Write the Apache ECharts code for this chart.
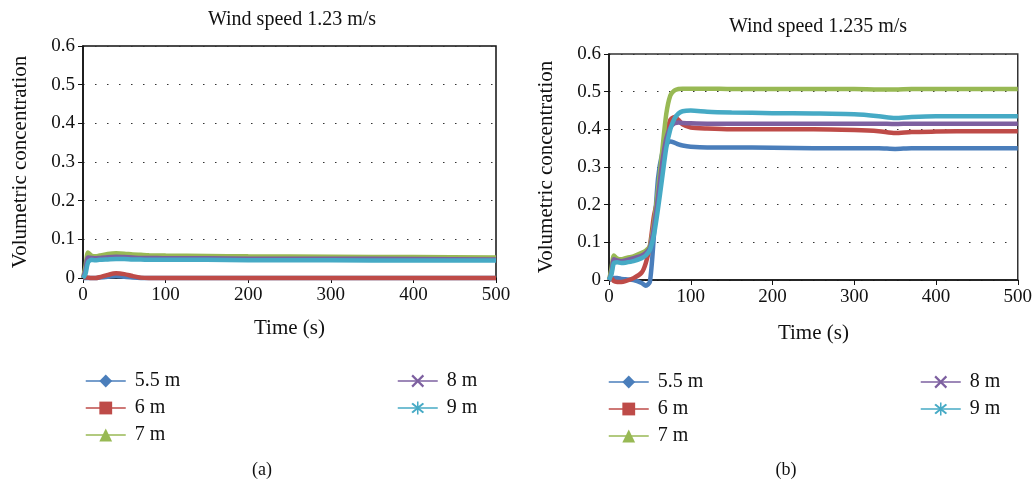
<!DOCTYPE html>
<html>
<head>
<meta charset="utf-8">
<title>Volumetric concentration</title>
<script src="https://cdn.jsdelivr.net/npm/echarts@6/dist/echarts.min.js"></script>
<style>
  html, body { margin: 0; padding: 0; background: #fff; }
  #chart { width: 1035px; height: 487px; }
</style>
</head>
<body>
<div id="chart"></div>
<script>
// series names (same for both panels)
var names = ['5.5 m', '6 m', '7 m', '8 m', '9 m']
var colors = ['#4a7ebb', '#be4b48', '#98b954', '#7d60a0', '#46aac5']

// (a) wind speed 1.23 m/s
var timeA = [0, 3, 6, 10, 15, 20, 30, 40, 50, 60, 70, 80, 100, 150, 200, 300, 400, 500]
var a55 = [0, 0, 0, 0, 0, 0.001, 0.003, 0.005, 0.003, 0.001, 0, 0, 0, 0, 0, 0, 0, 0]
var a6 = [0, 0.002, 0.001, 0, 0, 0.002, 0.008, 0.012, 0.01, 0.005, 0.001, 0, 0, 0, 0, 0, 0, 0]
var a7 = [0, 0.03, 0.066, 0.058, 0.056, 0.058, 0.062, 0.064, 0.063, 0.061, 0.06, 0.059, 0.058, 0.057, 0.056, 0.055, 0.054, 0.053]
var a8 = [0, 0.02, 0.053, 0.052, 0.051, 0.052, 0.054, 0.055, 0.054, 0.053, 0.052, 0.052, 0.051, 0.051, 0.05, 0.05, 0.049, 0.048]
var a9 = [0, 0.01, 0.04, 0.047, 0.046, 0.047, 0.048, 0.049, 0.049, 0.048, 0.048, 0.047, 0.047, 0.047, 0.046, 0.046, 0.045, 0.045]

// (b) wind speed 1.235 m/s
var timeB = [0, 3, 6, 10, 15, 20, 30, 40, 45, 50, 55, 60, 65, 70, 75, 80, 85, 90, 100, 120, 150, 200, 250, 300, 330, 350, 370, 400, 450, 500]
var b55 = [0, 0.003, 0.005, 0.005, 0.003, 0.002, 0, -0.008, -0.015, -0.005, 0.12, 0.27, 0.335, 0.36, 0.368, 0.365, 0.36, 0.357, 0.354, 0.352, 0.352, 0.351, 0.35, 0.35, 0.35, 0.348, 0.35, 0.35, 0.35, 0.35]
var b6 = [0, 0.005, -0.003, -0.005, -0.005, -0.003, 0.005, 0.02, 0.045, 0.09, 0.17, 0.22, 0.3, 0.38, 0.425, 0.433, 0.425, 0.413, 0.405, 0.402, 0.4, 0.4, 0.4, 0.398, 0.395, 0.39, 0.393, 0.394, 0.395, 0.395]
var b7 = [0, 0.03, 0.065, 0.057, 0.055, 0.058, 0.063, 0.072, 0.078, 0.09, 0.15, 0.24, 0.34, 0.44, 0.49, 0.503, 0.507, 0.508, 0.508, 0.508, 0.507, 0.507, 0.507, 0.507, 0.506, 0.506, 0.507, 0.507, 0.507, 0.507]
var b8 = [0, 0.02, 0.055, 0.052, 0.05, 0.052, 0.058, 0.065, 0.072, 0.085, 0.14, 0.22, 0.31, 0.375, 0.405, 0.416, 0.418, 0.417, 0.416, 0.415, 0.415, 0.415, 0.415, 0.415, 0.415, 0.414, 0.415, 0.415, 0.415, 0.415]
var b9 = [0, 0.015, 0.045, 0.047, 0.045, 0.046, 0.05, 0.058, 0.065, 0.08, 0.12, 0.19, 0.27, 0.35, 0.4, 0.428, 0.442, 0.448, 0.45, 0.447, 0.445, 0.443, 0.442, 0.44, 0.435, 0.43, 0.433, 0.435, 0.435, 0.435]

var FONT = '"Liberation Serif", "DejaVu Serif", serif'
// legend markers: diamond, square, triangle, x, asterisk
var symbols = [
  'diamond',
  'rect',
  'triangle',
  'path://M0,1.2 L1.2,0 L10,8.8 L8.8,10 Z M8.8,0 L10,1.2 L1.2,10 L0,8.8 Z',
  'path://M0,1.2 L1.2,0 L10,8.8 L8.8,10 Z M8.8,0 L10,1.2 L1.2,10 L0,8.8 Z M4.4,-1 L5.6,-1 L5.6,11 L4.4,11 Z'
]

function pairs(t, v) {
  return t.map(function (x, i) { return [x, v[i]] })
}

function makeSeries(idx, time, lists) {
  return lists.map(function (vals, i) {
    return {
      name: names[i],
      type: 'line',
      xAxisIndex: idx,
      yAxisIndex: idx,
      data: pairs(time, vals),
      smooth: 0.25,
      clip: false,
      showSymbol: false,
      symbol: symbols[i],
      symbolSize: 12,
      color: colors[i],
      lineStyle: { width: 4.5, color: colors[i] },
      itemStyle: { color: colors[i] },
      emphasis: { disabled: true }
    }
  })
}

function xAxis(gi, gap) {
  return {
    type: 'value', gridIndex: gi, min: 0, max: 500, interval: 100,
    name: 'Time (s)', nameLocation: 'middle', nameGap: gap,
    nameTextStyle: { fontFamily: FONT, fontSize: 21, color: '#111' },
    axisLine: { lineStyle: { color: '#111', width: 1.5 } },
    axisTick: { show: true, length: 5, lineStyle: { color: '#111' } },
    axisLabel: { fontFamily: FONT, fontSize: 19, color: '#111', margin: 8 },
    splitLine: { show: false }
  }
}

function yAxis(gi) {
  return {
    type: 'value', gridIndex: gi, min: 0, max: 0.6, interval: 0.1,
    name: 'Volumetric concentration', nameLocation: 'middle', nameGap: 52,
    nameTextStyle: { fontFamily: FONT, fontSize: 21, color: '#111' },
    axisLine: { show: true, lineStyle: { color: '#111', width: 1.5 } },
    axisTick: { show: true, length: 5, lineStyle: { color: '#111' } },
    axisLabel: {
      fontFamily: FONT, fontSize: 19, color: '#111', margin: 8,
      formatter: function (v) { return String(Math.round(v * 10) / 10) }
    },
    splitLine: { show: true, lineStyle: { color: '#333', width: 1, type: [1.5, 10.5] } }
  }
}

function legend(left, top, data) {
  return {
    left: left, top: top, orient: 'vertical', padding: 0,
    data: data, itemWidth: 40, itemHeight: 16, itemGap: 7,
    selectedMode: false,
    lineStyle: { width: 1.5 },
    textStyle: { fontFamily: FONT, fontSize: 20, color: '#111', lineHeight: 18, padding: [0, 0, 0, 4] }
  }
}

var chart = echarts.init(document.getElementById('chart'), null, { renderer: 'canvas' })
chart.setOption({
  animation: false,
  backgroundColor: '#fff',
  title: [
    { text: 'Wind speed 1.23 m/s', left: 287, top: 5, textAlign: 'center',
      textStyle: { fontFamily: FONT, fontSize: 20, fontWeight: 'normal', color: '#111' } },
    { text: 'Wind speed 1.235 m/s', left: 813, top: 12, textAlign: 'center',
      textStyle: { fontFamily: FONT, fontSize: 20, fontWeight: 'normal', color: '#111' } },
    { text: '(a)', left: 257, top: 456, textAlign: 'center',
      textStyle: { fontFamily: FONT, fontSize: 18, fontWeight: 'normal', color: '#111' } },
    { text: '(b)', left: 781, top: 456, textAlign: 'center',
      textStyle: { fontFamily: FONT, fontSize: 18, fontWeight: 'normal', color: '#111' } }
  ],
  grid: [
    { left: 83, top: 46, width: 413, height: 232, show: true, borderColor: '#111', borderWidth: 1.5, backgroundColor: 'transparent' },
    { left: 609, top: 54, width: 412, height: 226, show: true, borderColor: '#333', borderWidth: 1.5, backgroundColor: 'transparent' }
  ],
  xAxis: [xAxis(0, 40), xAxis(1, 43)],
  yAxis: [yAxis(0), yAxis(1)],
  legend: [
    legend(85, 371, names.slice(0, 3)),
    legend(397, 371, names.slice(3)),
    legend(608, 372, names.slice(0, 3)),
    legend(920, 372, names.slice(3))
  ],
  series: makeSeries(0, timeA, [a55, a6, a7, a8, a9])
    .concat(makeSeries(1, timeB, [b55, b6, b7, b8, b9]))
})
</script>
</body>
</html>
